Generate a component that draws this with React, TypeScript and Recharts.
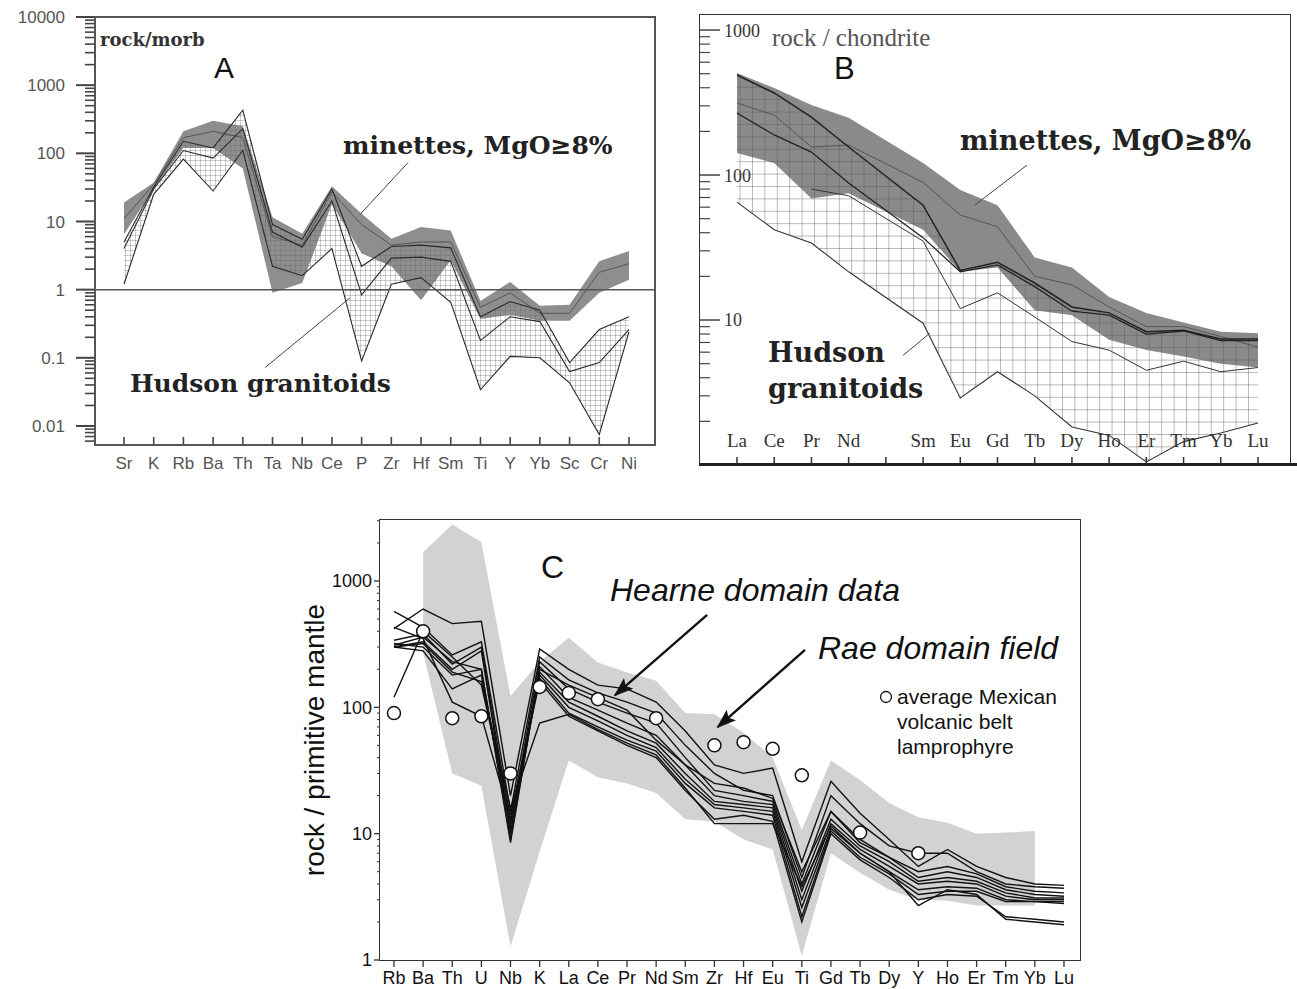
import React from 'react';
import { ComposedChart, Area, Line, XAxis, YAxis, ReferenceLine } from 'recharts';

// ---------------- Panel A : rock / MORB ----------------
const elementsA = ['Sr', 'K', 'Rb', 'Ba', 'Th', 'Ta', 'Nb', 'Ce', 'P', 'Zr', 'Hf', 'Sm', 'Ti', 'Y', 'Yb', 'Sc', 'Cr', 'Ni'];
const minetteLowA = [6.5, 30, 120, 120, 60, 0.9, 1.25, 18, 3.4, 2.2, 0.7, 2.7, 0.37, 0.43, 0.35, 0.35, 0.9, 1.4];
const minetteHighA = [19, 37, 210, 300, 250, 11.5, 6.6, 33, 13, 5.6, 8.3, 7.4, 0.68, 1.3, 0.58, 0.6, 2.6, 3.7];
const minetteMeanA = [11, 35, 170, 210, 170, 6, 4.5, 27, 9, 4.5, 5, 5, 0.55, 0.9, 0.45, 0.45, 1.8, 2.4];
const hudsonUpperA = [5, 32, 150, 120, 430, 9, 5.5, 30, 2.2, 4.3, 4.5, 4.1, 0.4, 0.67, 0.5, 0.085, 0.26, 0.4];
const hudsonMidA = [4, 30, 110, 85, 230, 7, 4.2, 20, 0.84, 2.9, 3.0, 2.6, 0.18, 0.4, 0.34, 0.063, 0.085, 0.26];
const hudsonLowerA = [1.2, 25, 82, 28, 110, 2.2, 1.6, 4, 0.09, 1.2, 1.5, 0.65, 0.034, 0.105, 0.1, 0.043, 0.0075, 0.24];
const yLabelsA = [0.01, 0.1, 1, 10, 100, 1000, 10000];
const yDomainA: [number, number] = [0.00526, 10000];
const xDomainA: [number, number] = [-0.976, 17.876];
const minettesLeaderA = [{ x: 9.56, y: 73 }, { x: 7.94, y: 12.6 }];
const hudsonLeaderA = [{ x: 4.75, y: 0.072 }, { x: 7.61, y: 0.76 }];

// ---------------- Panel B : rock / chondrite ----------------
const elementsB = ['La', 'Ce', 'Pr', 'Nd', '', 'Sm', 'Eu', 'Gd', 'Tb', 'Dy', 'Ho', 'Er', 'Tm', 'Yb', 'Lu'];
const minetteLowB = [142, 121, 69, 75, null, 42, 21.5, 23, 11.7, 10.8, 7.3, 6.2, 5.6, 5.0, 4.7];
const minetteHighB = [505, 398, 304, 248, null, 121, 79, 62, 27, 23, 14.4, 11.2, 9.6, 8.3, 8.1];
const minetteMeanB = [314, 259, 156, 161, null, 89, 53, 44, 20, 17.5, 12.3, 9, 9, 7.7, 6.5];
const hudsonUpperB = [490, 368, 251, 156, null, 62, 22, 25, 18, 12.3, 11.2, 8.3, 8.5, 7.4, 7.4];
const hudsonSecondB = [268, 189, 144, 88, null, 37, 21.5, 24, 17, 11.5, 10.8, 8, 8.4, 7.2, 7.2];
const hudsonThirdB = [null, null, 80, 72, null, 35, 12, 15.4, 10.5, 7.1, 6.2, 4.5, 5.2, 4.4, 4.7];
const hudsonLowerB = [65, 42, 34, 21.5, null, 9.5, 2.9, 4.4, 3.0, 1.83, 1.6, 1.05, 1.45, 1.66, 1.95];
const yLabelsB = [10, 100, 1000];
const yDomainB: [number, number] = [1, 1270];
const xDomainB: [number, number] = [-0.994, 14.86];
const minettesLeaderB = [{ x: 7.79, y: 117 }, { x: 6.39, y: 62 }];
const hudsonLeaderB = [{ x: 4.46, y: 5.7 }, { x: 5.18, y: 8.1 }];

// ---------------- Panel C : rock / primitive mantle ----------------
const elementsC = ['Rb', 'Ba', 'Th', 'U', 'Nb', 'K', 'La', 'Ce', 'Pr', 'Nd', 'Sm', 'Zr', 'Hf', 'Eu', 'Ti', 'Gd', 'Tb', 'Dy', 'Y', 'Ho', 'Er', 'Tm', 'Yb', 'Lu'];
const raeLowC = [null, 270, 30, 24, 1.28, 7.2, 38, 28, 25, 21, 13, 12.5, 9, 7.5, 1.08, 7.0, 4.9, 3.6, 3.0, 2.95, 2.7, 2.7, 2.7, null];
const raeHighC = [null, 1690, 2800, 2030, 123, 230, 356, 226, 189, 162, 90, 88, 63, 40, 10.7, 38, 26.6, 17.5, 13.5, 12.2, 10, 10.2, 10.5, null];
const hearne1 = [420, 600, 460, 480, 20, 290, 200, 150, 140, 110, 65, 35, 30, 33, 6, 26, 14.5, 9, 5.5, 7.5, 5.5, 4.5, 4, 3.9];
const hearne2 = [575, 430, 260, 330, 15, 250, 165, 130, 110, 90, 50, 30, 22, 20, 4.5, 20, 12, 8, 7, 7, 5, 4, 3.8, 3.7];
const hearne3 = [340, 380, 220, 300, 12, 230, 140, 110, 90, 75, 40, 22, 20, 18, 4, 15, 9, 6.5, 4.5, 5, 4.5, 3.6, 3.3, 3.2];
const hearne4 = [300, 330, 200, 280, 10, 210, 120, 95, 75, 60, 35, 20, 18, 17, 3.5, 13, 8, 6, 4.2, 4.5, 4.2, 3.4, 3.1, 3.1];
const hearne5 = [320, 300, 180, 200, 9, 190, 110, 85, 65, 52, 30, 18, 17, 16, 3, 12, 7.5, 5.5, 4, 4.2, 4, 3.2, 3.0, 3.0];
const hearne6 = [300, 280, 140, 180, 11, 180, 100, 78, 60, 48, 27, 17, 16, 15, 2.6, 11, 7, 5, 3.6, 3.8, 3.7, 3.0, 2.9, 2.9];
const hearne7 = [430, 350, 110, 85, 13, 170, 90, 70, 55, 45, 25, 16, 15, 14, 2.2, 10.5, 6.5, 4.8, 3.3, 3.5, 3.5, 2.9, 2.9, 2.8];
const hearne8 = [120, 400, 250, 150, 14, 160, 85, 65, 50, 40, 22, 13, 14, 12.5, 2.0, 10, 6.2, 4.5, 3.0, 3.3, 3.2, 2.2, 2.1, 2.0];
const hearne9 = [300, 320, 190, 160, 16, 75, 88, 67, 52, 42, 23, 12, 12, 12, 3.8, 11.5, 7, 5, 2.7, 3.6, 3.3, 2.1, 2.0, 1.9];
const hearne10 = [310, 360, 230, 200, 8.5, 200, 150, 120, 95, 55, 35, 25, 23, 19, 5, 15, 8.5, 6.5, 5, 5.5, 4.8, 3.8, 3.5, 3.4];
const hearneLinesC = [hearne1, hearne2, hearne3, hearne4, hearne5, hearne6, hearne7, hearne8, hearne9, hearne10];
const mexicanC = [90, 400, 82, 85, 30, 145, 130, 116, null, 82, null, 50, 53, 47, 29, null, 10.2, null, 7, null, null, null, null, null];
const yLabelsC = [1, 10, 100, 1000];
const yDomainC: [number, number] = [1, 3040];
const xDomainC: [number, number] = [-0.48, 23.55];
const hearneArrowC = [{ x: 10.75, y: 540 }, { x: 7.59, y: 125 }];
const raeArrowC = [{ x: 14.11, y: 285 }, { x: 11.12, y: 70 }];

// ---------------- helpers ----------------
const serif = '"DejaVu Serif", "Liberation Serif", serif';
const serif2 = '"Liberation Serif", "DejaVu Serif", serif';
const sans = '"Liberation Sans", Arial, sans-serif';

const rng = (lo: number | null, hi: number | null) => (lo == null || hi == null ? null : [lo, hi]);

function logTicks(labels: number[], lo: number, hi: number) {
  const out: number[] = [];
  let d = labels[0] / 100;
  while (d <= hi * 1.0001) {
    for (let m = 1; m <= 9; m++) {
      const v = +(d * m).toPrecision(6);
      if (v >= lo * 0.9999 && v <= hi * 1.0001) out.push(v);
    }
    d = +(d * 10).toPrecision(6);
  }
  return out;
}

type YTickOpts = { dir: number; major: number; minor: number; gap: number; font: string; size: number; color: string; stroke: string; sw: number; labels: number[] };
const makeYTick = (o: YTickOpts) => (props: any) => {
  const { x, y, payload } = props;
  const v = payload.value as number;
  const lg = Math.log10(v);
  const isMajor = Math.abs(lg - Math.round(lg)) < 1e-6;
  const len = isMajor ? o.major : o.minor;
  const show = isMajor && o.labels.some((l) => Math.abs(l - v) / l < 1e-6);
  return (
    <g>
      <line x1={x} y1={y} x2={x + o.dir * len} y2={y} stroke={o.stroke} strokeWidth={isMajor ? o.sw : o.sw * 0.8} />
      {show && (
        <text x={x + o.dir * (o.major + o.gap)} y={y} dy="0.36em" textAnchor={o.dir < 0 ? 'end' : 'start'} fontFamily={o.font} fontSize={o.size} fill={o.color}>
          {String(v)}
        </text>
      )}
    </g>
  );
};

type XTickOpts = { dir: number; len: number; off: number; font: string; size: number; color: string; stroke: string; sw: number };
const makeXTick = (labels: string[], o: XTickOpts) => (props: any) => {
  const { x, y, payload } = props;
  const i = Math.round(payload.value);
  return (
    <g>
      <line x1={x} y1={y} x2={x} y2={y + o.dir * o.len} stroke={o.stroke} strokeWidth={o.sw} />
      <text x={x} y={y + o.off} dy="0.36em" textAnchor="middle" fontFamily={o.font} fontSize={o.size} fill={o.color}>
        {labels[i]}
      </text>
    </g>
  );
};

const T = ({ x, y, children, style }: { x: number; y: number; children: React.ReactNode; style?: React.CSSProperties }) => (
  <div style={{ position: 'absolute', left: x, top: y, transform: 'translateY(-50%)', whiteSpace: 'nowrap', lineHeight: 1, ...style }}>{children}</div>
);

// ---------------- data tables ----------------
const dataA = elementsA.map((el, i) => ({
  x: i,
  el,
  minette: rng(minetteLowA[i], minetteHighA[i]),
  hudson: rng(hudsonLowerA[i], hudsonUpperA[i]),
  mean: minetteMeanA[i],
  up: hudsonUpperA[i],
  mid: hudsonMidA[i],
  low: hudsonLowerA[i],
}));

const dataB = elementsB.map((el, i) => ({
  x: i,
  el,
  minette: rng(minetteLowB[i], minetteHighB[i]),
  hudson: rng(hudsonLowerB[i], hudsonUpperB[i]),
  mean: minetteMeanB[i],
  up: hudsonUpperB[i],
  second: hudsonSecondB[i],
  third: hudsonThirdB[i],
  low: hudsonLowerB[i],
}));

const dataC = elementsC.map((el, i) => {
  const row: any = { x: i, el, rae: rng(raeLowC[i], raeHighC[i]), mex: mexicanC[i] };
  hearneLinesC.forEach((arr, k) => {
    row['h' + k] = arr[i];
  });
  return row;
});

const ticksIdx = (arr: string[]) => arr.map((_, i) => i);

export default function App() {
  return (
    <div style={{ position: 'absolute', left: 0, top: 0, width: 1297, height: 989, background: '#fff', overflow: 'hidden' }}>
      {/* ---------- Panel A ---------- */}
      <div style={{ position: 'absolute', left: 0, top: 0 }}>
        <ComposedChart width={700} height={480} data={dataA} margin={{ top: 17, right: 45, bottom: 0, left: 0 }}>
          <defs>
            <pattern id="hatchA" width="5" height="5" patternUnits="userSpaceOnUse">
              <path d="M5 0 L0 0 L0 5" fill="none" stroke="#6a6a6a" strokeWidth="0.7" />
            </pattern>
          </defs>
          <Area dataKey="minette" type="linear" stroke="none" fill="#8e8e8e" fillOpacity={1} isAnimationActive={false} dot={false} activeDot={false} />
          <Area dataKey="hudson" type="linear" stroke="none" fill="url(#hatchA)" fillOpacity={1} isAnimationActive={false} dot={false} activeDot={false} />
          <Line dataKey="mean" type="linear" stroke="#555" strokeWidth={1} dot={false} activeDot={false} isAnimationActive={false} />
          <Line dataKey="up" type="linear" stroke="#2a2a2a" strokeWidth={1.1} dot={false} activeDot={false} isAnimationActive={false} />
          <Line dataKey="mid" type="linear" stroke="#2a2a2a" strokeWidth={1.1} dot={false} activeDot={false} isAnimationActive={false} />
          <Line dataKey="low" type="linear" stroke="#2a2a2a" strokeWidth={1.1} dot={false} activeDot={false} isAnimationActive={false} />
          <ReferenceLine y={1} stroke="#555" strokeWidth={1.5} ifOverflow="visible" />
          <ReferenceLine segment={minettesLeaderA} stroke="#444" strokeWidth={1} ifOverflow="visible" />
          <ReferenceLine segment={hudsonLeaderA} stroke="#444" strokeWidth={1} ifOverflow="visible" />
          <XAxis
            type="number"
            dataKey="x"
            domain={xDomainA}
            allowDataOverflow
            ticks={ticksIdx(elementsA)}
            interval={0}
            height={35}
            tickSize={0}
            tickMargin={0}
            axisLine={false}
            tickLine={false}
            tick={makeXTick(elementsA, { dir: -1, len: 8, off: 18, font: sans, size: 17, color: '#555', stroke: '#444', sw: 1.6 })}
          />
          <YAxis
            type="number"
            scale="log"
            domain={yDomainA}
            allowDataOverflow
            ticks={logTicks(yLabelsA, yDomainA[0], yDomainA[1])}
            interval={0}
            width={95}
            tickSize={0}
            tickMargin={0}
            axisLine={false}
            tickLine={false}
            tick={makeYTick({ dir: -1, major: 19, minor: 10, gap: 11, font: sans, size: 17, color: '#555', stroke: '#444', sw: 2, labels: yLabelsA })}
          />
        </ComposedChart>
      </div>
      <div style={{ position: 'absolute', left: 94, top: 16, width: 562, height: 430, border: '2px solid #555', boxSizing: 'border-box' }} />
      <T x={100} y={40} style={{ fontFamily: serif, fontWeight: 700, fontSize: 18, color: '#333' }}>rock/morb</T>
      <T x={214} y={68} style={{ fontFamily: sans, fontSize: 30, color: '#111' }}>A</T>
      <T x={343} y={145} style={{ fontFamily: serif, fontWeight: 700, fontSize: 25, color: '#222' }}>minettes, MgO≥8%</T>
      <T x={130} y={383} style={{ fontFamily: serif, fontWeight: 700, fontSize: 25, color: '#222' }}>Hudson granitoids</T>

      {/* ---------- Panel B ---------- */}
      <div style={{ position: 'absolute', left: 690, top: 0 }}>
        <ComposedChart width={607} height={480} data={dataB} margin={{ top: 15, right: 7, bottom: 0, left: 0 }}>
          <defs>
            <pattern id="hatchB" width="12.4" height="12.4" patternUnits="userSpaceOnUse">
              <path d="M12.4 0 L0 0 L0 12.4" fill="none" stroke="#555" strokeWidth="0.8" />
            </pattern>
          </defs>
          <Area dataKey="minette" type="linear" stroke="none" fill="#8a8a8a" fillOpacity={1} connectNulls isAnimationActive={false} dot={false} activeDot={false} />
          <Area dataKey="hudson" type="linear" stroke="none" fill="url(#hatchB)" fillOpacity={1} connectNulls isAnimationActive={false} dot={false} activeDot={false} />
          <Line dataKey="mean" type="linear" stroke="#555" strokeWidth={1} connectNulls dot={false} activeDot={false} isAnimationActive={false} />
          <Line dataKey="up" type="linear" stroke="#222" strokeWidth={1.5} connectNulls dot={false} activeDot={false} isAnimationActive={false} />
          <Line dataKey="second" type="linear" stroke="#222" strokeWidth={1.3} connectNulls dot={false} activeDot={false} isAnimationActive={false} />
          <Line dataKey="third" type="linear" stroke="#333" strokeWidth={1} connectNulls dot={false} activeDot={false} isAnimationActive={false} />
          <Line dataKey="low" type="linear" stroke="#333" strokeWidth={1.1} connectNulls dot={false} activeDot={false} isAnimationActive={false} />
          <ReferenceLine segment={minettesLeaderB} stroke="#444" strokeWidth={1} ifOverflow="visible" />
          <ReferenceLine segment={hudsonLeaderB} stroke="#444" strokeWidth={1} ifOverflow="visible" />
          <XAxis
            type="number"
            dataKey="x"
            domain={xDomainB}
            allowDataOverflow
            ticks={ticksIdx(elementsB)}
            interval={0}
            height={15}
            tickSize={0}
            tickMargin={0}
            axisLine={false}
            tickLine={false}
            tick={makeXTick(elementsB, { dir: -1, len: 8, off: -25, font: serif2, size: 19, color: '#333', stroke: '#333', sw: 1.5 })}
          />
          <YAxis
            type="number"
            scale="log"
            domain={yDomainB}
            allowDataOverflow
            ticks={logTicks(yLabelsB, yDomainB[0], yDomainB[1])}
            interval={0}
            width={10}
            tickSize={0}
            tickMargin={0}
            axisLine={false}
            tickLine={false}
            tick={makeYTick({ dir: 1, major: 20, minor: 10, gap: 4, font: serif2, size: 18, color: '#333', stroke: '#444', sw: 1.5, labels: yLabelsB })}
          />
        </ComposedChart>
      </div>
      <div style={{ position: 'absolute', left: 699, top: 14, width: 592, height: 452, border: '1.5px solid #333', borderBottom: 'none', boxSizing: 'border-box' }} />
      <div style={{ position: 'absolute', left: 699, top: 463, width: 598, height: 3, background: '#222' }} />
      <T x={772} y={37} style={{ fontFamily: serif2, fontSize: 25, color: '#555' }}>rock / chondrite</T>
      <T x={834} y={68} style={{ fontFamily: sans, fontSize: 31, color: '#111' }}>B</T>
      <T x={960} y={140} style={{ fontFamily: serif, fontWeight: 700, fontSize: 27, color: '#222' }}>minettes, MgO≥8%</T>
      <T x={768} y={352} style={{ fontFamily: serif, fontWeight: 700, fontSize: 27, color: '#222' }}>Hudson</T>
      <T x={768} y={388} style={{ fontFamily: serif, fontWeight: 700, fontSize: 27, color: '#222' }}>granitoids</T>

      {/* ---------- Panel C ---------- */}
      <div style={{ position: 'absolute', left: 290, top: 500 }}>
        <ComposedChart width={800} height={489} data={dataC} margin={{ top: 20, right: 10, bottom: 0, left: 0 }}>
          <defs>
            <marker id="arrowC" markerUnits="userSpaceOnUse" markerWidth="20" markerHeight="14" refX="18" refY="7" orient="auto">
              <path d="M0,0 L20,7 L0,14 L4,7 z" fill="#111" />
            </marker>
          </defs>
          <Area dataKey="rae" type="linear" stroke="none" fill="#d2d2d2" fillOpacity={1} isAnimationActive={false} dot={false} activeDot={false} />
          {hearneLinesC.map((_, k) => (
            <Line key={k} dataKey={'h' + k} type="linear" stroke="#111" strokeWidth={1.4} dot={false} activeDot={false} isAnimationActive={false} />
          ))}
          <Line
            dataKey="mex"
            type="linear"
            stroke="none"
            strokeWidth={0}
            dot={{ r: 6.5, fill: '#fff', stroke: '#111', strokeWidth: 1.5 }}
            activeDot={false}
            isAnimationActive={false}
          />
          <ReferenceLine
            segment={hearneArrowC}
            ifOverflow="visible"
            shape={(p: any) => <line x1={p.x1} y1={p.y1} x2={p.x2} y2={p.y2} stroke="#111" strokeWidth={2.4} markerEnd="url(#arrowC)" />}
          />
          <ReferenceLine
            segment={raeArrowC}
            ifOverflow="visible"
            shape={(p: any) => <line x1={p.x1} y1={p.y1} x2={p.x2} y2={p.y2} stroke="#111" strokeWidth={2.4} markerEnd="url(#arrowC)" />}
          />
          <XAxis
            type="number"
            dataKey="x"
            domain={xDomainC}
            allowDataOverflow
            ticks={ticksIdx(elementsC)}
            interval={0}
            height={29}
            tickSize={0}
            tickMargin={0}
            axisLine={false}
            tickLine={false}
            tick={makeXTick(elementsC, { dir: 1, len: 7, off: 18, font: sans, size: 18, color: '#111', stroke: '#333', sw: 1.3 })}
          />
          <YAxis
            type="number"
            scale="log"
            domain={yDomainC}
            allowDataOverflow
            ticks={logTicks(yLabelsC, yDomainC[0], yDomainC[1])}
            interval={0}
            width={90}
            tickSize={0}
            tickMargin={0}
            axisLine={false}
            tickLine={false}
            tick={makeYTick({ dir: -1, major: 6, minor: 3, gap: 2, font: sans, size: 18, color: '#111', stroke: '#333', sw: 1.3, labels: yLabelsC })}
          />
        </ComposedChart>
      </div>
      <div style={{ position: 'absolute', left: 379, top: 519, width: 702, height: 442, border: '1.5px solid #333', boxSizing: 'border-box' }} />
      <T x={541} y={567} style={{ fontFamily: sans, fontSize: 32, color: '#111' }}>C</T>
      <T x={610} y={590} style={{ fontFamily: sans, fontStyle: 'italic', fontSize: 32, color: '#111' }}>Hearne domain data</T>
      <T x={818} y={648} style={{ fontFamily: sans, fontStyle: 'italic', fontSize: 32, color: '#111' }}>Rae domain field</T>
      <div style={{ position: 'absolute', left: 879, top: 690 }}>
        <svg width={14} height={14}>
          <circle cx={7} cy={7} r={5.5} fill="#fff" stroke="#111" strokeWidth={1.3} />
        </svg>
      </div>
      <T x={897} y={696} style={{ fontFamily: sans, fontSize: 21, color: '#111' }}>average Mexican</T>
      <T x={897} y={721} style={{ fontFamily: sans, fontSize: 21, color: '#111' }}>volcanic belt</T>
      <T x={897} y={746} style={{ fontFamily: sans, fontSize: 21, color: '#111' }}>lamprophyre</T>
      <div
        style={{
          position: 'absolute',
          left: 315,
          top: 740,
          transform: 'translate(-50%, -50%) rotate(-90deg)',
          whiteSpace: 'nowrap',
          fontFamily: sans,
          fontSize: 28,
          color: '#111',
          lineHeight: 1,
        }}
      >
        rock / primitive mantle
      </div>
    </div>
  );
}
